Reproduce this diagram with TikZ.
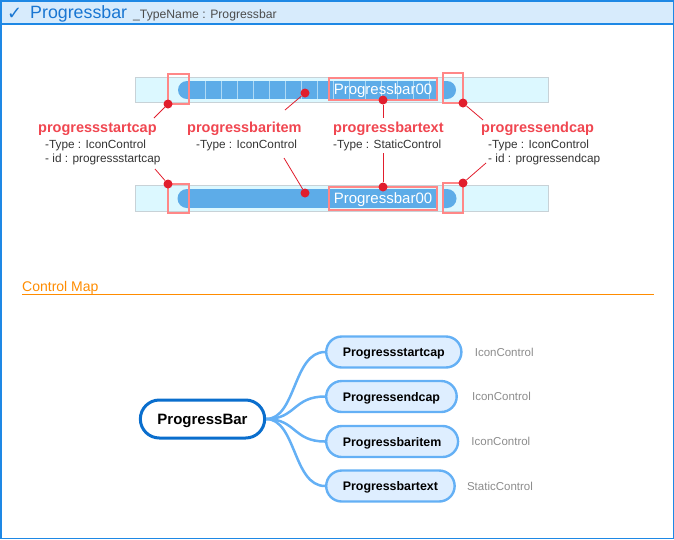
\documentclass[tikz,border=0pt]{standalone}
\usepackage{fontspec}
\setmainfont{Liberation Sans}
\newfontfamily\symfont{DejaVu Sans}
\usetikzlibrary{positioning,shapes.misc}

\definecolor{frameblue}{RGB}{30,136,229}
\definecolor{headfill}{RGB}{215,235,252}
\definecolor{titleblue}{RGB}{25,118,210}
\definecolor{barbg}{RGB}{220,248,255}
\definecolor{barframe}{RGB}{200,210,215}
\definecolor{barblue}{RGB}{93,172,232}
\definecolor{sepcol}{RGB}{175,218,245}
\definecolor{pinkline}{RGB}{255,135,135}
\definecolor{dotred}{RGB}{225,30,45}
\definecolor{labelred}{RGB}{240,70,80}
\definecolor{maporange}{RGB}{255,140,0}
\definecolor{rootblue}{RGB}{10,110,205}
\definecolor{childfill}{RGB}{222,238,255}
\definecolor{childline}{RGB}{100,176,245}
\definecolor{graytxt}{RGB}{140,140,140}

\tikzset{
	txt/.style={inner sep=0pt, anchor=base west},
	capname/.style={txt, text=labelred, font=\bfseries\fontsize{14.5}{16}\selectfont},
	capinfo/.style={txt, text=black!80, font=\fontsize{11.8}{13}\selectfont},
	pinkbox/.style={draw=pinkline, line width=1.8pt, inner sep=0pt, outer sep=0pt, text depth=0pt},
	reddot/.style={circle, fill=dotred, inner sep=0pt, minimum size=9pt},
	redline/.style={dotred, line width=0.8pt},
	maproot/.style={rounded rectangle, draw=rootblue, fill=white, line width=3pt, minimum width=131pt, minimum height=38pt, text depth=0pt, font=\bfseries\fontsize{15}{18}\selectfont},
	mapchild/.style={rounded rectangle, draw=childline, fill=childfill, line width=2.4pt, minimum height=31pt, inner xsep=16pt, text depth=0pt, anchor=west, font=\bfseries\fontsize{12.4}{14}\selectfont},
	mapline/.style={childline, line width=2.5pt},
	typelbl/.style={inner sep=0pt, text=graytxt, font=\fontsize{11.5}{13}\selectfont},
}

\begin{document}
\begin{tikzpicture}[x=1pt,y=-1pt]
	\useasboundingbox (0,0) rectangle (674,539);
	\fill[headfill] (0,0) rectangle (674,24);
	\draw[frameblue, line width=1.2pt] (0,24) -- (674,24);
	\draw[frameblue, line width=1.5pt] (0.75,0.75) rectangle (673.25,538.25);
	\node[txt, text=titleblue, font=\symfont\fontsize{18}{18}\selectfont] (tick) at (7,19) {✓};
	\node[txt, text=titleblue, font=\fontsize{17.8}{20}\selectfont] (title) at (30,18) {Progressbar};
	\node[txt, text=black!70, font=\fontsize{12.2}{14}\selectfont] (typename) at (133,18) {\_TypeName : Progressbar};
	
	\draw[barframe, fill=barbg, line width=1pt] (135,77) rectangle (548,102);
	\fill[barblue] (189,81) -- (187,81) arc (270:90:9) -- (189,99) -- cycle;
	\fill[barblue] (189,81) rectangle (437,99);
	\foreach \x in {205,221,...,429}
		\draw[sepcol, line width=1pt] (\x,81) -- (\x,99);
	\fill[barblue] (444,81) -- (447,81) arc (270:450:9) -- (444,99) -- cycle;
	\node[pinkbox, minimum width=21pt, minimum height=30pt] (capstart1) at (178.5,89) {};
	\node[pinkbox, minimum width=108pt, minimum height=22pt, text=white, font=\fontsize{15}{18}\selectfont] (bartext1) at (383,89) {Progressbar00};
	\node[pinkbox, minimum width=20pt, minimum height=30pt] (capend1) at (453,88) {};
	\node[reddot] (sdot1) at (capstart1.south west) {};
	\node[reddot] (idot1) at (305,93) {};
	\node[reddot] (tdot1) at (bartext1.south) {};
	\node[reddot] (edot1) at (capend1.south east) {};
	
	\node[capname] (startname) at (38,132) {progressstartcap};
	\node[capinfo] (starttype) at (45,148) {-Type : IconControl};
	\node[capinfo] (startid) at (45,162) {- id : progressstartcap};
	\node[capname] (itemname) at (187,132) {progressbaritem};
	\node[capinfo] (itemtype) at (196,148) {-Type : IconControl};
	\node[capname] (textname) at (333,132) {progressbartext};
	\node[capinfo] (texttype) at (333,148) {-Type : StaticControl};
	\node[capname] (endname) at (481,132) {progressendcap};
	\node[capinfo] (endtype) at (488,148) {-Type : IconControl};
	\node[capinfo] (endid) at (488,162) {- id : progressendcap};
	
	\draw[barframe, fill=barbg, line width=1pt] (135,185) rectangle (548,211);
	\fill[barblue] (189,189) -- (187,189) arc (270:90:9.5) -- (189,208) -- cycle;
	\fill[barblue] (189,189) rectangle (437,208);
	\fill[barblue] (444,189) -- (447,189) arc (270:450:9.5) -- (444,208) -- cycle;
	\node[pinkbox, minimum width=21pt, minimum height=29pt] (capstart2) at (178.5,198.5) {};
	\node[pinkbox, minimum width=108pt, minimum height=23pt, text=white, font=\fontsize{15}{18}\selectfont] (bartext2) at (383,198.5) {Progressbar00};
	\node[pinkbox, minimum width=20pt, minimum height=30pt] (capend2) at (453,198) {};
	\node[reddot] (sdot2) at (capstart2.north west) {};
	\node[reddot] (idot2) at (305,193) {};
	\node[reddot] (tdot2) at (bartext2.north) {};
	\node[reddot] (edot2) at (capend2.north east) {};
	
	\coordinate (startup) at (154,118);
	\coordinate (startdown) at (155,169);
	\coordinate (itemup) at (285,110);
	\coordinate (itemdown) at (284,158);
	\coordinate (textup) at (383,118);
	\coordinate (textdown) at (383,153);
	\coordinate (endup) at (483,120);
	\coordinate (enddown) at (486,163);
	\draw[redline] (sdot1) -- (startup);
	\draw[redline] (sdot2) -- (startdown);
	\draw[redline] (idot1) -- (itemup);
	\draw[redline] (idot2) -- (itemdown);
	\draw[redline] (tdot1) -- (textup);
	\draw[redline] (tdot2) -- (textdown);
	\draw[redline] (edot1) -- (endup);
	\draw[redline] (edot2) -- (enddown);
	
	\node[txt, text=maporange, font=\fontsize{14}{16}\selectfont] (mapname) at (22,291) {Control Map};
	\draw[maporange, line width=1pt] (22,294.5) -- (654,294.5);
	
	\node[maproot] (root) at (202.5,419) {ProgressBar};
	\node[mapchild] (cstart) at (325,352) {Progressstartcap};
	\node[mapchild] (cend) at (325,396.5) {Progressendcap};
	\node[mapchild] (citem) at (325,441.5) {Progressbaritem};
	\node[mapchild] (ctext) at (325,486) {Progressbartext};
	\foreach \c in {cstart,cend,citem,ctext}
		\draw[mapline] (root.east) .. controls +(30,0) and +(-32,0) .. (\c.west);
	\node[typelbl, right=12pt of cstart] (tstart) {IconControl};
	\node[typelbl, right=14pt of cend] (tend) {IconControl};
	\node[typelbl, right=12pt of citem] (titem) {IconControl};
	\node[typelbl, right=11pt of ctext] (ttext) {StaticControl};
\end{tikzpicture}
\end{document}
